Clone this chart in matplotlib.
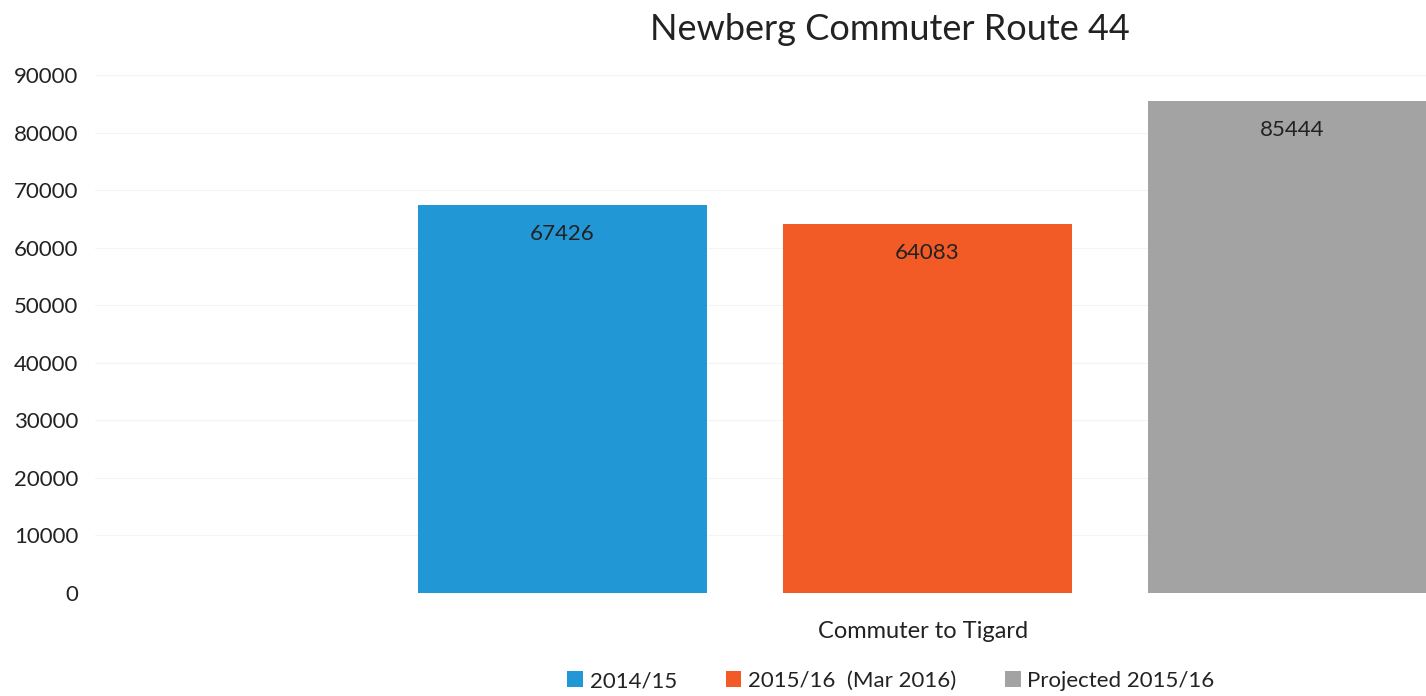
import numpy as np
import matplotlib.pyplot as plt

# Data
category = 'Commuter to Tigard'
series = ['2014/15', '2015/16  (Mar 2016)', 'Projected 2015/16']
values = [67426, 64083, 85444]
colors = ['#2197D6', '#F25A26', '#A3A3A3']
yticks = [0, 10000, 20000, 30000, 40000, 50000, 60000, 70000, 80000, 90000]

W, H = 1426, 696
fig = plt.figure(figsize=(W / 100, H / 100), dpi=100)
plt.rcParams['font.family'] = ['Lato', 'DejaVu Sans']

# axes box in pixels: left 95, right past the edge, zero at y=593, 90000 at y=75
ax = fig.add_axes([95 / W, 1 - 593 / H, (W - 95) / W, (593 - 75) / H])

x = np.arange(len(values))
bw = 289 / 365.0
bars = []
for i, (v, c, s) in enumerate(zip(values, colors, series)):
    b = ax.bar(x[i], v, width=bw, color=c, edgecolor='none', label=s, zorder=2)
    bars.append(b)
    ax.text(x[i], v - 5000, str(v), ha='center', va='center',
            fontsize=16, color='#222222', zorder=3)

ax.set_xlim(1 - (927 - 95) / 365.0, 1 + (W - 927) / 365.0)
ax.set_ylim(0, 90000)
ax.set_yticks(yticks)
ax.set_yticklabels([str(t) for t in yticks], fontsize=16, color='#222222')
ax.tick_params(axis='y', length=0, pad=12)
ax.set_xticks([])
ax.grid(axis='y', color='#f4f4f4', linewidth=0.8, zorder=0)
for sp in ax.spines.values():
    sp.set_visible(False)

# category label sits under the middle bar
fig.text(923 / W, 1 - 632 / H, category, ha='center', va='center',
         fontsize=17, color='#222222')
fig.text(890 / W, 1 - 30 / H, 'Newberg Commuter Route 44', ha='center',
         va='center', fontsize=26, color='#222222')

fig.legend(handles=[b[0] for b in bars], labels=series, loc='center',
           bbox_to_anchor=(891 / W, 1 - 681 / H), ncol=3, frameon=False,
           fontsize=16, handlelength=0.7, handleheight=0.7, handletextpad=0.3,
           columnspacing=2.2, labelcolor='#222222')

plt.savefig('out.png', dpi=100)
